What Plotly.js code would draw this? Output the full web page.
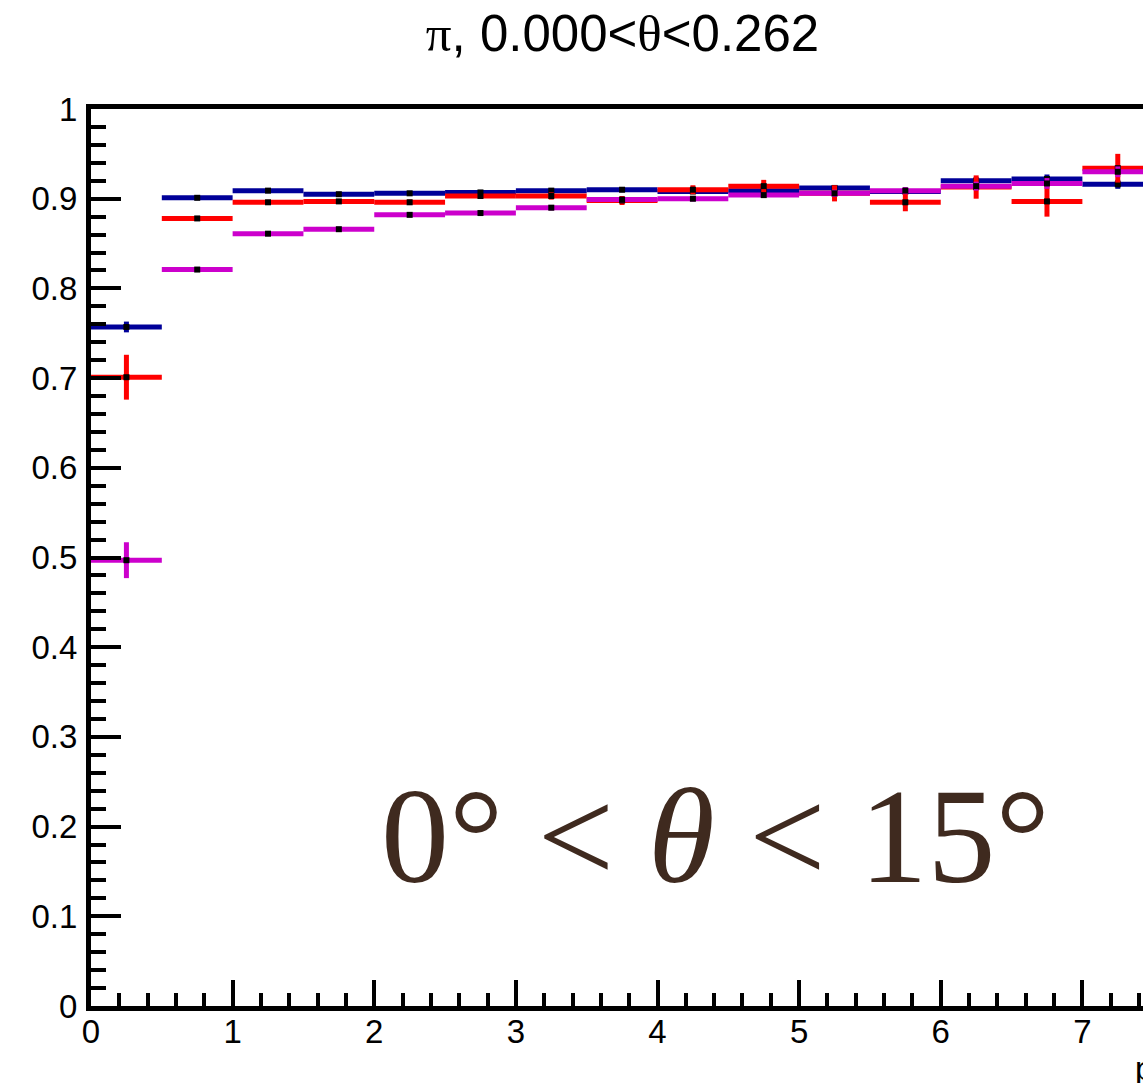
<!DOCTYPE html>
<html>
<head>
<meta charset="utf-8">
<script src="https://cdn.plot.ly/plotly-3.0.1.min.js"></script>
<style>
  html, body { margin: 0; padding: 0; overflow: hidden; background: #fff; }
  #chart { width: 1245px; height: 1083px; }
</style>
</head>
<body>
<div id="chart"></div>
<script>
// Bin centres (bins of width 0.5)
const binCenters = [0.25, 0.75, 1.25, 1.75, 2.25, 2.75, 3.25, 3.75, 4.25, 4.75, 5.25, 5.75, 6.25, 6.75, 7.25];
const binHalfWidth = 0.25;

// Series values
const blueValues = [0.757, 0.901, 0.909, 0.905, 0.906, 0.907, 0.909, 0.910, 0.908, 0.909, 0.912, 0.908, 0.920, 0.922, 0.916];
const blueErrors = [0.006, 0.002, 0.002, 0.002, 0.002, 0.002, 0.002, 0.002, 0.002, 0.003, 0.003, 0.003, 0.004, 0.005, 0.005];

const redValues = [0.701, 0.878, 0.896, 0.897, 0.896, 0.903, 0.903, 0.898, 0.910, 0.914, 0.906, 0.896, 0.913, 0.897, 0.934];
const redErrors = [0.025, 0.002, 0.002, 0.002, 0.003, 0.003, 0.004, 0.005, 0.005, 0.007, 0.009, 0.010, 0.013, 0.017, 0.016];

const magentaValues = [0.497, 0.821, 0.861, 0.866, 0.882, 0.884, 0.890, 0.899, 0.900, 0.904, 0.906, 0.909, 0.914, 0.917, 0.930];
const magentaErrors = [0.020, 0.002, 0.002, 0.002, 0.002, 0.002, 0.003, 0.003, 0.003, 0.003, 0.004, 0.004, 0.005, 0.006, 0.006];

const serifSpan = (s) => '<span style="font-family:Liberation Serif, Times New Roman, serif">' + s + '</span>';
const titleText = serifSpan('π') + ", 0.000&lt;" + serifSpan('θ') + "&lt;0.262";
const xTitleText = "p (GeV/c)";
const labelText = "0°&#160;&lt;&#160;<i>θ</i>&#160;&lt;&#160;15°";

function series(values, errors, color) {
  return {
    type: 'scatter',
    mode: 'markers',
    x: binCenters,
    y: values,
    marker: { symbol: 'square', size: 6, color: '#000000' },
    error_x: { type: 'constant', value: binHalfWidth, width: 0, thickness: 5, color: color },
    error_y: { type: 'data', array: errors, visible: true, width: 0, thickness: 5, color: color },
    showlegend: false,
    hoverinfo: 'x+y'
  };
}

const data = [
  series(blueValues, blueErrors, '#000099'),
  series(redValues, redErrors, '#ff0000'),
  series(magentaValues, magentaErrors, '#cc00cc')
];

const axisFont = { family: 'Liberation Sans, Arial, sans-serif', size: 33, color: '#000' };

const layout = {
  width: 1245,
  height: 1083,
  margin: { l: 91, r: 21, t: 109, b: 77, pad: 0 },
  paper_bgcolor: '#ffffff',
  plot_bgcolor: '#ffffff',
  title: {
    text: titleText,
    font: { family: 'Liberation Sans, Arial, sans-serif', size: 51, color: '#000' },
    x: 0.5, xanchor: 'center',
    y: 1 - 33 / 1083, yref: 'container', yanchor: 'middle'
  },
  xaxis: {
    range: [0, 8],
    showgrid: false, zeroline: false,
    showline: true, linewidth: 5, linecolor: '#000', mirror: true,
    ticks: 'inside', ticklen: 26, tickwidth: 4, tickcolor: '#000',
    dtick: 1, tick0: 0,
    tickfont: axisFont,
    ticklabelstandoff: -8,
    minor: { ticks: 'inside', ticklen: 13, tickwidth: 4, tickcolor: '#000', dtick: 0.2, showgrid: false }
  },
  yaxis: {
    range: [0, 1],
    showgrid: false, zeroline: false,
    showline: true, linewidth: 5, linecolor: '#000', mirror: true,
    ticks: 'inside', ticklen: 30, tickwidth: 4, tickcolor: '#000',
    dtick: 0.1, tick0: 0,
    tickfont: axisFont,
    ticklabelstandoff: 2,
    minor: { ticks: 'inside', ticklen: 15, tickwidth: 4, tickcolor: '#000', dtick: 0.02, showgrid: false }
  },
  annotations: [
    {
      text: labelText,
      xref: 'x', yref: 'y',
      x: 4.41, y: 0.19,
      xanchor: 'center', yanchor: 'middle',
      showarrow: false,
      font: { family: 'Liberation Serif, Times New Roman, serif', size: 136, color: '#3f2a1f' }
    },
    {
      text: xTitleText,
      xref: 'x', yref: 'paper',
      x: 7.36, y: 0,
      xanchor: 'left', yanchor: 'top',
      yshift: -42,
      showarrow: false,
      font: axisFont
    }
  ]
};

Plotly.newPlot('chart', data, layout, { staticPlot: true, displayModeBar: false });
</script>
</body>
</html>
